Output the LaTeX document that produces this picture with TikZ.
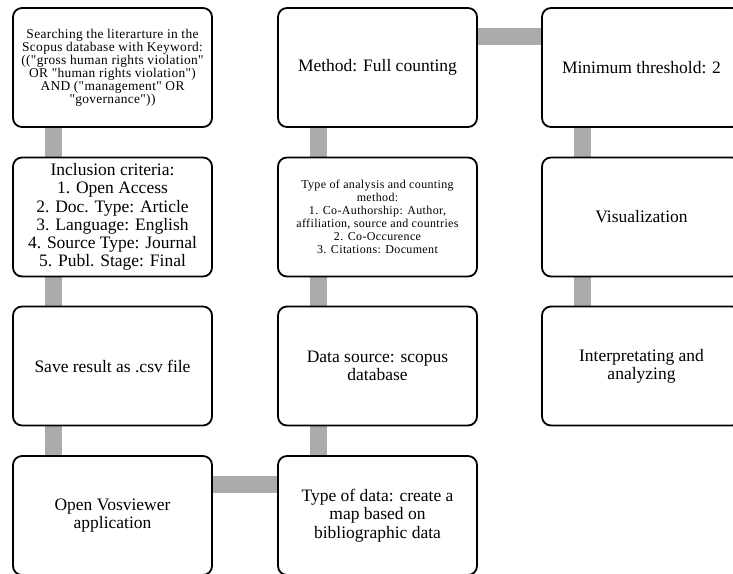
\documentclass[tikz,border=0pt]{standalone}
\usepackage{fontspec}
\setmainfont{Liberation Serif}
\newfontfamily\widerm{Liberation Serif}[Ligatures=ResetAll,LetterSpace=2.5]
\newfontfamily\widerb{Liberation Serif}[LetterSpace=3]
\usetikzlibrary{backgrounds}
\definecolor{conngray}{HTML}{ABABAB}
\begin{document}
\begin{tikzpicture}[x=1pt,y=-1pt,
  box/.style={draw=black, line width=1.8pt, fill=white, rounded corners=9pt,
    minimum width=199pt, minimum height=119pt, inner sep=2pt, align=center,
    font=\fontsize{17.5}{18.3}\selectfont},
  smallbox/.style={box, font=\widerm\fontsize{13.4}{13}\selectfont},
  tinybox/.style={box, font=\widerb\fontsize{12}{13}\selectfont},
  conn/.style={draw=conngray, line width=17pt}]
\clip (0,0) rectangle (733,573);
\useasboundingbox (0,0) rectangle (733,573);
% column 1
\node[smallbox] (search) at (112.5,67.5) {Searching the literarture in the\\Scopus database with Keyword:\\(("gross human rights violation"\\OR "human rights violation")\\AND ("management" OR\\"governance"))};
\node[box] (incl) at (112.5,217) {Inclusion criteria:\\1. Open Access\\2. Doc. Type: Article\\3. Language: English\\4. Source Type: Journal\\5. Publ. Stage: Final};
\node[box] (save) at (112.5,366) {Save result as .csv file};
\node[box] (open) at (112.5,515.5) {Open Vosviewer\\application};
% column 2
\node[box] (method) at (377.5,67.5) {Method: Full counting};
\node[tinybox] (analysis) at (377.5,217) {Type of analysis and counting\\method:\\1. Co-Authorship: Author,\\affiliation, source and countries\\2. Co-Occurence\\3. Citations: Document};
\node[box] (source) at (377.5,366) {Data source: scopus\\database};
\node[box] (datatype) at (377.5,515.5) {Type of data: create a\\map based on\\bibliographic data};
% column 3
\node[box] (thresh) at (641.5,67.5) {Minimum threshold: 2};
\node[box] (vis) at (641.5,217) {Visualization};
\node[box] (interp) at (641.5,366) {Interpretating and\\analyzing};
\begin{scope}[on background layer]
\draw[conn] ([xshift=41pt]search.south west) -- ([xshift=41pt]incl.north west);
\draw[conn] ([xshift=41pt]incl.south west) -- ([xshift=41pt]save.north west);
\draw[conn] ([xshift=41pt]save.south west) -- ([xshift=41pt]open.north west);
\draw[conn] ([yshift=-29pt]open.north east) -- ([yshift=-29pt]datatype.north west);
\draw[conn] ([xshift=41pt]datatype.north west) -- ([xshift=41pt]source.south west);
\draw[conn] ([xshift=41pt]source.north west) -- ([xshift=41pt]analysis.south west);
\draw[conn] ([xshift=41pt]analysis.north west) -- ([xshift=41pt]method.south west);
\draw[conn] ([yshift=-29pt]method.north east) -- ([yshift=-29pt]thresh.north west);
\draw[conn] ([xshift=41pt]thresh.south west) -- ([xshift=41pt]vis.north west);
\draw[conn] ([xshift=41pt]vis.south west) -- ([xshift=41pt]interp.north west);
\end{scope}
\end{tikzpicture}
\end{document}
